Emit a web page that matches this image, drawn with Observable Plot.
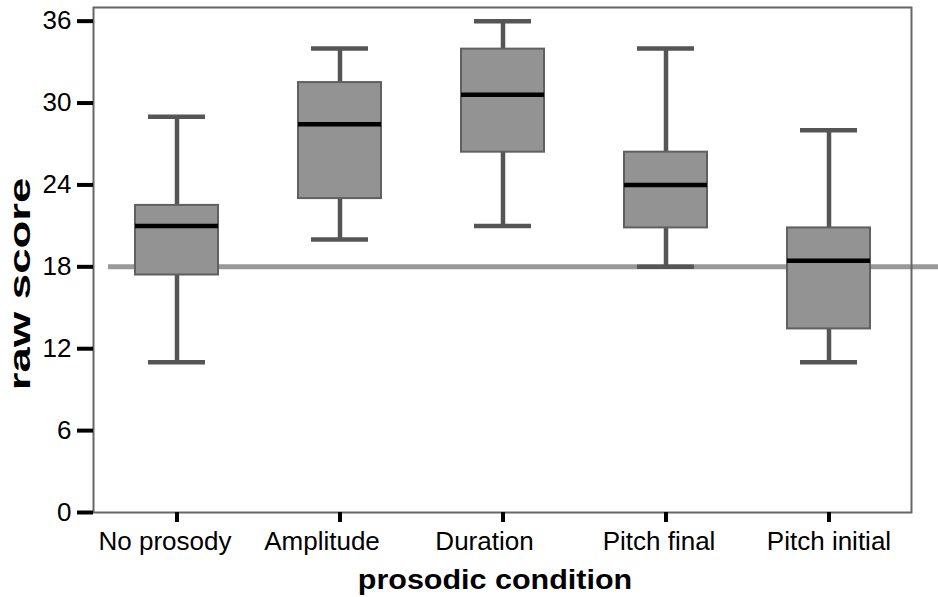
<!DOCTYPE html>
<html>
<head>
<meta charset="utf-8">
<script src="https://cdn.jsdelivr.net/npm/d3@7"></script>
<script src="https://cdn.jsdelivr.net/npm/@observablehq/plot@0.6"></script>
<style>
  html, body { margin: 0; padding: 0; background: #fff; }
</style>
</head>
<body>
<div id="chart"></div>
<script>
const categories = ["No prosody", "Amplitude", "Duration", "Pitch final", "Pitch initial"];
const whiskerLow  = [11, 20, 21, 18, 11];
const quartile1   = [17.4, 23, 26.4, 20.85, 13.45];
const medians     = [21, 28.45, 30.6, 24, 18.45];
const quartile3   = [22.5, 31.5, 33.95, 26.4, 20.85];
const whiskerHigh = [29, 34, 36, 34, 28];
const referenceValue = 18;
const yTicks = [0, 6, 12, 18, 24, 30, 36];
const xTitle = "prosodic condition";
const yTitle = "raw score";

const boxes = categories.map((c, i) => ({
  cat: c, lo: whiskerLow[i], q1: quartile1[i], med: medians[i], q3: quartile3[i], hi: whiskerHigh[i]
}));

const font = "'Liberation Sans', Arial, Helvetica, sans-serif";
// small horizontal label shifts seen in the original rendering
const labelShift = [-12, -18, -18.5, -7, 0];

const chart = Plot.plot({
  width: 938,
  height: 597,
  marginLeft: 93,
  marginRight: 27,
  marginTop: 7,
  marginBottom: 85,
  style: { fontFamily: font, fontSize: "26px", color: "black", background: "white" },
  x: { domain: categories, padding: 0, label: null },
  y: { domain: [0, 37], label: null },
  marks: [
    Plot.ruleY([referenceValue], { stroke: "#999999", strokeWidth: 5, insetLeft: 15, insetRight: -27 }),
    Plot.ruleX(boxes, { x: "cat", y1: "lo", y2: "q1", stroke: "#555555", strokeWidth: 4.5 }),
    Plot.ruleX(boxes, { x: "cat", y1: "q3", y2: "hi", stroke: "#555555", strokeWidth: 4.5 }),
    Plot.tickY(boxes, { x: "cat", y: "lo", stroke: "#555555", strokeWidth: 4.5, insetLeft: 53, insetRight: 53 }),
    Plot.tickY(boxes, { x: "cat", y: "hi", stroke: "#555555", strokeWidth: 4.5, insetLeft: 53, insetRight: 53 }),
    Plot.barY(boxes, { x: "cat", y1: "q1", y2: "q3", fill: "#939393", stroke: "#606060", strokeWidth: 2, insetLeft: 40, insetRight: 40 }),
    Plot.tickY(boxes, { x: "cat", y: "med", stroke: "black", strokeWidth: 4.5, insetLeft: 40, insetRight: 40 }),
    Plot.frame({ stroke: "#666666", strokeWidth: 2 }),
    Plot.axisX({ tickSize: 10, tickPadding: 9, stroke: "black", strokeWidth: 4, tickFormat: () => "", label: null }),
    ...categories.map((c, i) => Plot.text([c], {
      x: d => d, frameAnchor: "bottom", lineAnchor: "top", dy: 19, dx: labelShift[i],
      fontSize: 26, fill: "black"
    })),
    Plot.axisY({ ticks: yTicks, tickSize: 16, tickPadding: 6, stroke: "black", strokeWidth: 4, fill: "black", fontSize: 26, label: null })
  ]
});

const svg = d3.select(chart);
svg.append("text")
  .attr("transform", "translate(495,589) scale(1.13,1)")
  .attr("text-anchor", "middle")
  .attr("font-family", font)
  .attr("font-weight", "bold")
  .attr("font-size", 27)
  .attr("fill", "black")
  .text(xTitle);
svg.append("text")
  .attr("transform", "translate(30,284) rotate(-90) scale(1.57,1)")
  .attr("text-anchor", "middle")
  .attr("font-family", font)
  .attr("font-weight", "bold")
  .attr("font-size", 29)
  .attr("fill", "black")
  .text(yTitle);

document.getElementById("chart").appendChild(chart);
</script>
</body>
</html>
